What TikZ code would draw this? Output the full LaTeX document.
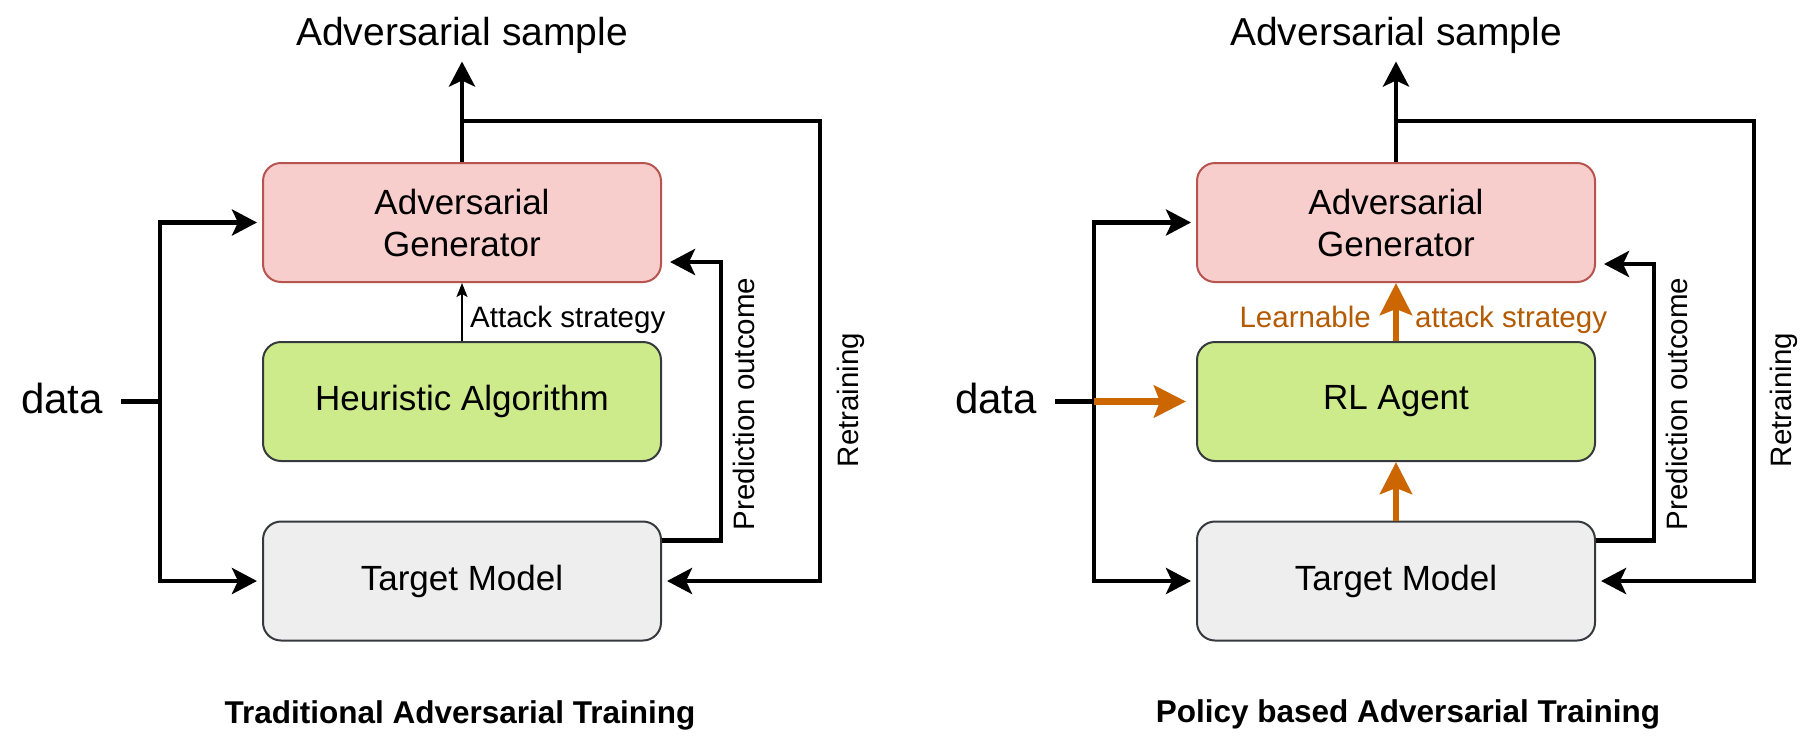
\documentclass[tikz,border=0pt]{standalone}
\usepackage{fontspec}
\setmainfont{Liberation Sans}
\usetikzlibrary{arrows.meta}
\definecolor{agfill}{HTML}{F8CECC}
\definecolor{agdraw}{HTML}{B85450}
\definecolor{rlfill}{HTML}{CDEB8B}
\definecolor{darkline}{HTML}{36393D}
\definecolor{tmfill}{HTML}{EEEEEE}
\definecolor{orng}{HTML}{CC6600}
\tikzset{
  box/.style={rounded corners=18pt, minimum width=398pt, minimum height=119pt, line width=2pt, inner sep=0pt, align=center, font=\fontsize{35}{42}\selectfont},
  agbox/.style={box, fill=agfill, draw=agdraw},
  rlbox/.style={box, fill=rlfill, draw=darkline},
  tmbox/.style={box, fill=tmfill, draw=darkline},
  conn/.style={line width=4.7pt, draw=black},
  arr/.style={conn, -{Stealth[length=25pt, width=26pt, inset=6pt]}},
  thinarr/.style={line width=1.5pt, draw=black, -{Stealth[length=14pt, width=11pt, inset=3pt]}},
  oarr/.style={line width=6.5pt, draw=orng, -{Stealth[length=32pt, width=32pt, inset=6pt]}},
  lbl/.style={font=\fontsize{29.5}{35}\selectfont, inner sep=0pt},
  olbl/.style={lbl, text=orng!88!black},
  titlelbl/.style={font=\fontsize{39}{46}\selectfont, inner sep=0pt},
  datalbl/.style={font=\fontsize{42}{50}\selectfont, inner sep=0pt},
  caplbl/.style={font=\bfseries\fontsize{31.5}{38}\selectfont, inner sep=0pt},
}
\begin{document}
\begin{tikzpicture}[x=1pt,y=-1pt]
\useasboundingbox[fill=white] (0,0) rectangle (1809,750);
% ---------------- left panel ----------------
\node[agbox] (AG1) at (462,222.5) {Adversarial\\Generator};
\node[rlbox] (HA1) at (462,401.5) {Heuristic Algorithm};
\node[tmbox] (TM1) at (462,581) {Target Model};
\node[titlelbl, anchor=base] (S1) at (462,45) {Adversarial sample};
\node[datalbl, anchor=base west] (D1) at (21,413) {data};
\node[caplbl, anchor=base] (C1) at (460,723) {Traditional Adversarial Training};
\coordinate (D1e) at (121,401.5);
\coordinate (J1) at (160,401.5);
\coordinate (T1) at (462,61.5);
\coordinate (R1) at (462,121);
\coordinate (RC1) at (820,121);
\draw[conn] (D1e) -- (J1);
\draw[arr, shorten >=5pt] (J1) |- (AG1.west);
\draw[arr, shorten >=5pt] (J1) |- (TM1.west);
\draw[arr] (AG1.north) -- (T1);
\draw[arr, shorten >=5pt] (R1) -- (RC1) |- (TM1.east);
\draw[thinarr] (HA1.north) -- (AG1.south);
\node[lbl, anchor=base west] (A1) at (470,327) {Attack strategy};
\draw[arr, shorten >=8pt] ([yshift=-20pt]TM1.north east) -- ++(59,0) |- ([yshift=21pt]AG1.south east);
\node[lbl, rotate=90, anchor=base] (P1) at (754,404) {Prediction outcome};
\node[lbl, rotate=90, anchor=base] (Rt1) at (858,400) {Retraining};
% ---------------- right panel ----------------
\node[agbox] (AG2) at (1396,222.5) {Adversarial\\Generator};
\node[rlbox] (RL2) at (1396,401.5) {RL Agent};
\node[tmbox] (TM2) at (1396,581) {Target Model};
\node[titlelbl, anchor=base] (S2) at (1396,45) {Adversarial sample};
\node[datalbl, anchor=base west] (D2) at (955,413) {data};
\node[caplbl, anchor=base] (C2) at (1408,722) {Policy based Adversarial Training};
\coordinate (D2e) at (1055,401.5);
\coordinate (J2) at (1094,401.5);
\coordinate (T2) at (1396,61.5);
\coordinate (R2) at (1396,121);
\coordinate (RC2) at (1754,121);
\draw[conn] (D2e) -- (J2);
\draw[arr, shorten >=5pt] (J2) |- (AG2.west);
\draw[arr, shorten >=5pt] (J2) |- (TM2.west);
\draw[arr] (AG2.north) -- (T2);
\draw[arr, shorten >=5pt] (R2) -- (RC2) |- (TM2.east);
\draw[arr, shorten >=8pt] ([yshift=-20pt]TM2.north east) -- ++(58,0) |- ([yshift=19pt]AG2.south east);
\node[lbl, rotate=90, anchor=base] (P2) at (1687,404) {Prediction outcome};
\node[lbl, rotate=90, anchor=base] (Rt2) at (1791,400) {Retraining};
\draw[oarr, shorten >=10pt] (J2) -- (RL2.west);
\draw[oarr] (RL2.north) -- (AG2.south);
\draw[oarr] (TM2.north) -- (RL2.south);
\node[olbl, anchor=base east] (L2) at (1371,327) {Learnable};
\node[olbl, anchor=base west] (A2) at (1415,327) {attack strategy};
\end{tikzpicture}
\end{document}
